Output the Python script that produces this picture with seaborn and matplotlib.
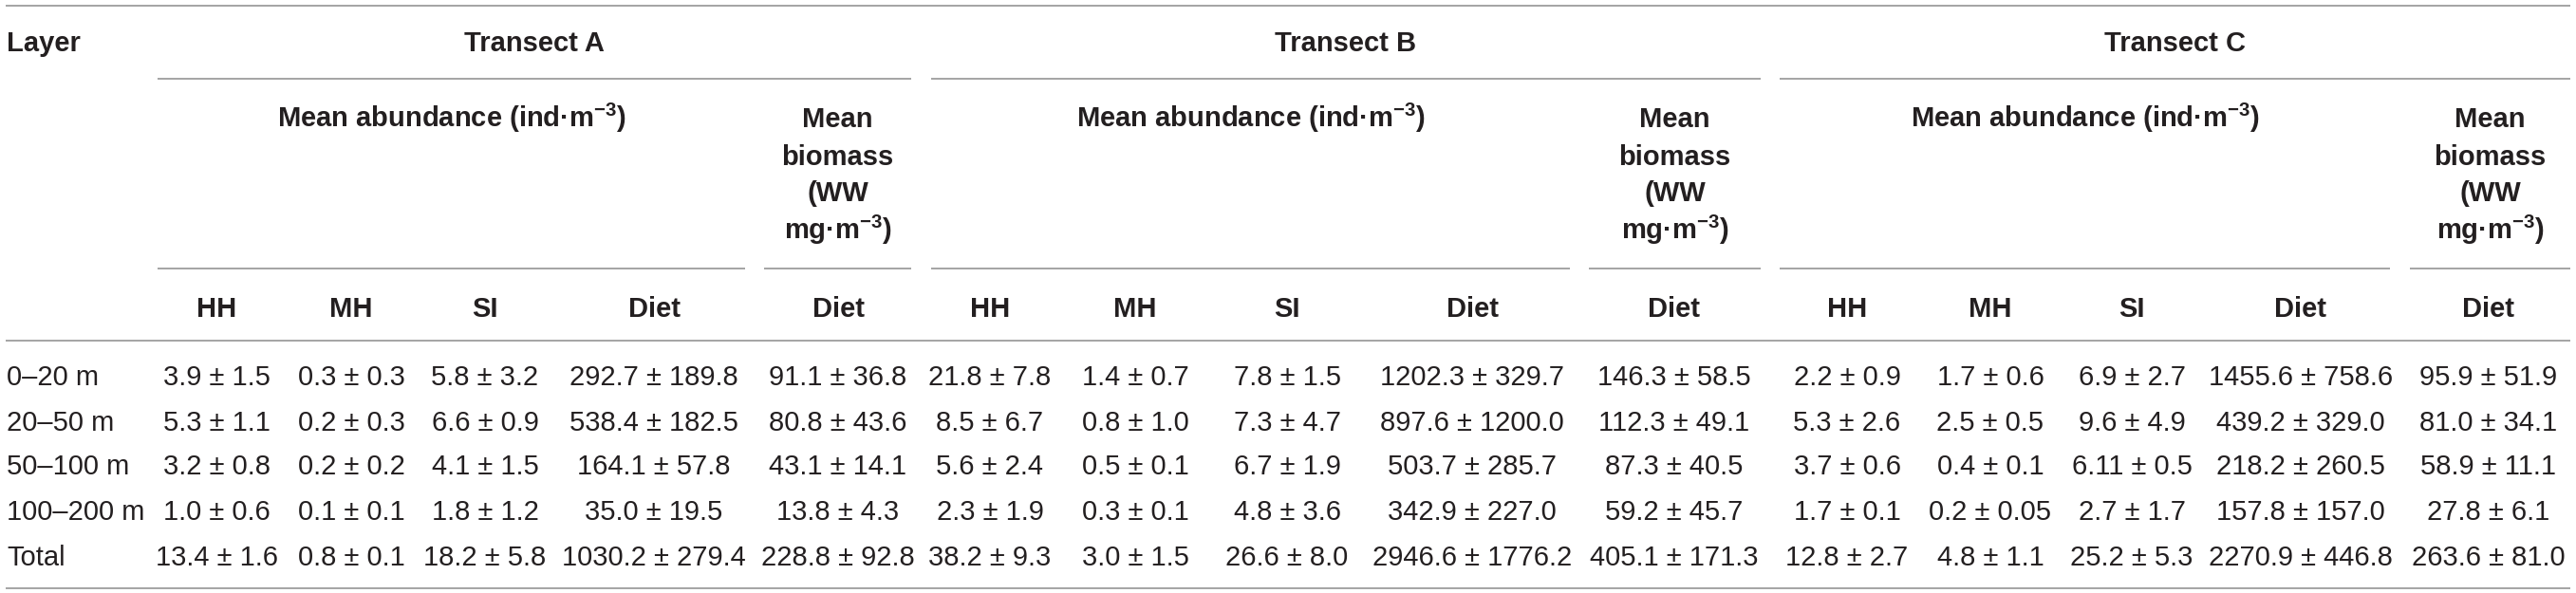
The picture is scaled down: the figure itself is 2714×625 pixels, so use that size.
import matplotlib
matplotlib.use("Agg")
from matplotlib import pyplot as plt
import seaborn as sns

# table content
layers = ["0–20 m", "20–50 m", "50–100 m", "100–200 m", "Total"]
transects = ["Transect A", "Transect B", "Transect C"]
sub_cols = ["HH", "MH", "SI", "Diet", "Diet"]

a_hh = ["3.9 ± 1.5", "5.3 ± 1.1", "3.2 ± 0.8", "1.0 ± 0.6", "13.4 ± 1.6"]
a_mh = ["0.3 ± 0.3", "0.2 ± 0.3", "0.2 ± 0.2", "0.1 ± 0.1", "0.8 ± 0.1"]
a_si = ["5.8 ± 3.2", "6.6 ± 0.9", "4.1 ± 1.5", "1.8 ± 1.2", "18.2 ± 5.8"]
a_diet = ["292.7 ± 189.8", "538.4 ± 182.5", "164.1 ± 57.8", "35.0 ± 19.5", "1030.2 ± 279.4"]
a_bio = ["91.1 ± 36.8", "80.8 ± 43.6", "43.1 ± 14.1", "13.8 ± 4.3", "228.8 ± 92.8"]

b_hh = ["21.8 ± 7.8", "8.5 ± 6.7", "5.6 ± 2.4", "2.3 ± 1.9", "38.2 ± 9.3"]
b_mh = ["1.4 ± 0.7", "0.8 ± 1.0", "0.5 ± 0.1", "0.3 ± 0.1", "3.0 ± 1.5"]
b_si = ["7.8 ± 1.5", "7.3 ± 4.7", "6.7 ± 1.9", "4.8 ± 3.6", "26.6 ± 8.0"]
b_diet = ["1202.3 ± 329.7", "897.6 ± 1200.0", "503.7 ± 285.7", "342.9 ± 227.0", "2946.6 ± 1776.2"]
b_bio = ["146.3 ± 58.5", "112.3 ± 49.1", "87.3 ± 40.5", "59.2 ± 45.7", "405.1 ± 171.3"]

c_hh = ["2.2 ± 0.9", "5.3 ± 2.6", "3.7 ± 0.6", "1.7 ± 0.1", "12.8 ± 2.7"]
c_mh = ["1.7 ± 0.6", "2.5 ± 0.5", "0.4 ± 0.1", "0.2 ± 0.05", "4.8 ± 1.1"]
c_si = ["6.9 ± 2.7", "9.6 ± 4.9", "6.11 ± 0.5", "2.7 ± 1.7", "25.2 ± 5.3"]
c_diet = ["1455.6 ± 758.6", "439.2 ± 329.0", "218.2 ± 260.5", "157.8 ± 157.0", "2270.9 ± 446.8"]
c_bio = ["95.9 ± 51.9", "81.0 ± 34.1", "58.9 ± 11.1", "27.8 ± 6.1", "263.6 ± 81.0"]

abund_label = r"Mean abundance (ind·m$^{-3}$)"
bio_label = ["Mean", "biomass", "(WW", r"mg·m$^{-3}$)"]

# layout (pixel coordinates)
W, H = 2714, 625
col_x = [[228, 370, 511, 689, 883],
         [1043, 1196, 1356, 1551, 1764],
         [1946, 2097, 2246, 2424, 2622]]
span = [(166, 960), (981, 1855), (1875, 2708)]
abund_span = [(166, 785), (981, 1654), (1875, 2518)]
bio_span = [(805, 960), (1674, 1855), (2539, 2708)]
row_y = [395, 443, 490, 537, 585]

sns.set_theme(style="white")
plt.rcParams["font.family"] = ["Liberation Sans", "DejaVu Sans"]
plt.rcParams["mathtext.fontset"] = "custom"
plt.rcParams["mathtext.rm"] = "Liberation Sans:bold"
plt.rcParams["mathtext.default"] = "rm"

TXT = "#231f20"
LINE = "#9d9d9d"
FS = 21
off = 10.5  # half cap height, baseline offset

fig = plt.figure(figsize=(W / 100, H / 100), dpi=100)
ax = fig.add_axes([0, 0, 1, 1])
ax.set_xlim(0, W)
ax.set_ylim(H, 0)
ax.axis("off")

# rules
for y in (6, 359, 620):
    ax.hlines(y, 6, 2708, color=LINE, lw=1.3)
for x0, x1 in span:
    ax.hlines(83, x0, x1, color=LINE, lw=1.3)
for x0, x1 in abund_span + bio_span:
    ax.hlines(283, x0, x1, color=LINE, lw=1.3)

# header
ax.text(7, 43 + off, "Layer", ha="left", va="baseline", fontsize=FS, fontweight="bold", color=TXT)
for i, t in enumerate(transects):
    x0, x1 = span[i]
    ax.text((x0 + x1) / 2, 43 + off, t, ha="center", va="baseline",
            fontsize=FS, fontweight="bold", color=TXT)
    a0, a1 = abund_span[i]
    ax.text((a0 + a1) / 2, 124 + off, abund_label, ha="center", va="baseline",
            fontsize=FS, fontweight="bold", color=TXT)
    b0, b1 = bio_span[i]
    for k, line in enumerate(bio_label):
        ax.text((b0 + b1) / 2, 124 + 39 * k + off, line, ha="center", va="baseline",
                fontsize=FS, fontweight="bold", color=TXT)
    for j, name in enumerate(sub_cols):
        ax.text(col_x[i][j], 323 + off, name, ha="center", va="baseline",
                fontsize=FS, fontweight="bold", color=TXT)

# body
columns = [[a_hh, a_mh, a_si, a_diet, a_bio],
           [b_hh, b_mh, b_si, b_diet, b_bio],
           [c_hh, c_mh, c_si, c_diet, c_bio]]
for r, lab in enumerate(layers):
    ax.text(7, row_y[r] + off, lab, ha="left", va="baseline", fontsize=FS, color=TXT)
    for i in range(3):
        for j in range(5):
            ax.text(col_x[i][j], row_y[r] + off, columns[i][j][r], ha="center",
                    va="baseline", fontsize=FS, color=TXT)

fig.savefig("out.png", dpi=100, facecolor="white")
